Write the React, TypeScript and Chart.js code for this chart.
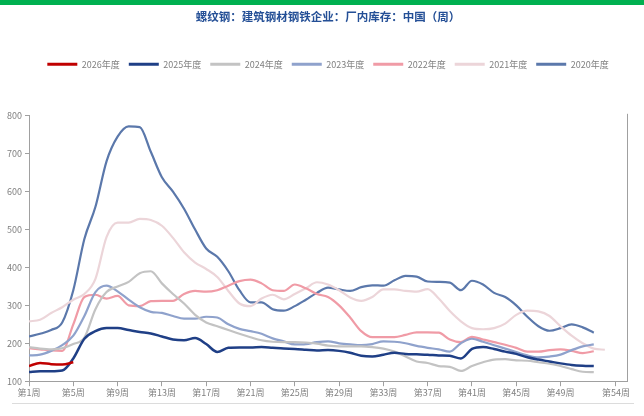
import { useEffect, useRef } from 'react';
import { Chart, registerables } from 'chart.js';

Chart.register(...registerables);

// ---- data ----
const weeks = [
  1, 2, 3, 4, 5, 6, 7, 8, 9, 10, 11, 12, 13, 14, 15, 16, 17, 18, 19, 20,
  21, 22, 23, 24, 25, 26, 27, 28, 29, 30, 31, 32, 33, 34, 35, 36, 37, 38, 39, 40,
  41, 42, 43, 44, 45, 46, 47, 48, 49, 50, 51, 52, 53,
];
const xTickWeeks = [1, 5, 9, 13, 17, 21, 25, 29, 33, 37, 41, 45, 49, 54];
const seriesNames = ['2026年度', '2025年度', '2024年度', '2023年度', '2022年度', '2021年度', '2020年度'];
const chartTitle = '螺纹钢：建筑钢材钢铁企业：厂内库存：中国（周）';

const y2026 = [140, 148, 145, 144, 150];
const y2025 = [
  124, 126, 126, 128, 160, 212, 232, 240, 240, 235, 230, 226, 218, 210, 208, 214, 198, 177, 188, 189,
  189, 190, 188, 186, 185, 183, 181, 182, 180, 175, 167, 165, 170, 175, 172, 171, 170, 168, 167, 160,
  185, 190, 185, 178, 172, 163, 157, 152, 147, 143, 141, 140,
];
const y2024 = [
  190, 186, 184, 187, 198, 215, 290, 335, 350, 362, 385, 390, 358, 330, 305, 275, 255, 245, 235, 225,
  216, 208, 204, 203, 203, 202, 199, 194, 192, 192, 192, 190, 186, 178, 165, 152, 148, 140, 138, 127,
  140, 150, 157, 158, 155, 154, 150, 146, 140, 132, 125, 124,
];
const y2023 = [
  168, 170, 180, 195, 220, 272, 335, 352, 337, 315, 295, 283, 280, 272, 265, 265, 270, 268, 250, 238,
  232, 225, 213, 205, 197, 198, 203, 205, 200, 197, 195, 198, 205, 204, 200, 193, 188, 184, 178, 200,
  212, 204, 195, 186, 177, 168, 163, 165, 170, 182, 192, 197,
];
const y2022 = [
  187, 184, 181, 180, 250, 322, 328, 318, 325, 300, 298, 311, 312, 312, 330, 338, 336, 340, 352, 364,
  368, 358, 340, 338, 355, 345, 330, 322, 300, 268, 232, 216, 216, 216, 222, 229, 229, 228, 210, 203,
  217, 210, 203, 196, 188, 178, 178, 182, 184, 180, 174, 179,
];
const y2021 = [
  258, 262, 280, 295, 315, 330, 370, 480, 518, 518, 528, 525, 510, 478, 440, 413, 396, 375, 338, 305,
  298, 318, 328, 316, 330, 345, 361, 355, 340, 321, 312, 322, 342, 342, 338, 336, 343, 318, 285, 258,
  240, 237, 240, 252, 275, 286, 284, 272, 245, 220, 200, 186, 183,
];
const y2020 = [
  218, 225, 235, 255, 340, 475, 560, 680, 745, 772, 770, 705, 638, 600, 555, 500, 450, 428, 390, 340,
  308, 308, 290, 286, 298, 315, 333, 347, 342, 338, 348, 353, 352, 366, 378, 376, 363, 362, 360, 340,
  365, 355, 333, 322, 300, 270, 245, 233, 240, 250, 242, 228,
];
const seriesValues = [y2026, y2025, y2024, y2023, y2022, y2021, y2020];

// ---- styles ----
const seriesColors = ['#c00000', '#1f3f86', '#c3c3c3', '#8fa2cc', '#f09ba6', '#ecd5d9', '#5b78ab'];
const seriesWidths = [2.5, 2.5, 2.2, 2.2, 2.2, 2.2, 2.2];
const smallFont = "'Noto Sans CJK SC', 'Noto Sans', sans-serif";
const axisGray = '#a0a0a0';
const textGray = '#808080';

const rightBorder = {
  id: 'rightBorder',
  afterDraw(chart: any) {
    const { ctx, chartArea } = chart;
    ctx.save();
    ctx.strokeStyle = axisGray;
    ctx.lineWidth = 1;
    const x = Math.round(chartArea.right) + 0.5;
    ctx.beginPath();
    ctx.moveTo(x, chartArea.top - 2);
    ctx.lineTo(x, chartArea.bottom);
    ctx.stroke();
    ctx.restore();
  },
};

export default function App() {
  const ref = useRef<HTMLCanvasElement | null>(null);

  useEffect(() => {
    if (!ref.current) return;
    const chart = new Chart(ref.current, {
      type: 'line',
      data: {
        datasets: seriesNames.map((name, i) => ({
          label: name,
          data: seriesValues[i].map((v, j) => ({ x: weeks[j], y: v })),
          borderColor: seriesColors[i],
          backgroundColor: seriesColors[i],
          borderWidth: seriesWidths[i],
          pointRadius: 0,
          pointHoverRadius: 0,
          cubicInterpolationMode: 'monotone' as const,
          fill: false,
        })),
      },
      options: {
        animation: false,
        responsive: false,
        maintainAspectRatio: false,
        events: [],
        layout: { padding: { left: 0, right: 17, top: 0, bottom: 17 } },
        plugins: {
          tooltip: { enabled: false },
          title: {
            display: true,
            text: chartTitle,
            color: '#244f96',
            fullSize: false,
            font: { family: "'Noto Sans CJK SC', sans-serif", size: 11.5, weight: 'bold' },
            padding: { top: 10, bottom: 27 },
          },
          subtitle: {
            display: true,
            text: ' ',
            position: 'top',
            weight: 500,
            fullSize: false,
            font: { size: 10 },
            padding: { top: 0, bottom: 25 },
          },
          legend: {
            display: true,
            position: 'top',
            fullSize: false,
            labels: {
              boxWidth: 30,
              boxHeight: 3,
              padding: 9,
              color: textGray,
              font: { family: smallFont, size: 9 },
              generateLabels: (c: any) =>
                Chart.defaults.plugins.legend.labels.generateLabels(c).map((l: any) => ({
                  ...l,
                  lineWidth: 0,
                  fillStyle: seriesColors[l.datasetIndex],
                })),
            },
          },
        },
        scales: {
          x: {
            type: 'linear',
            min: 1,
            max: 55,
            afterBuildTicks: (scale: any) => {
              scale.ticks = xTickWeeks.map((v) => ({ value: v }));
            },
            ticks: {
              autoSkip: false,
              maxRotation: 0,
              padding: 1,
              color: textGray,
              font: { family: smallFont, size: 9 },
              callback: (v: any) => `第${v}周`,
            },
            grid: { display: true, drawOnChartArea: false, drawTicks: true, tickLength: 5, color: axisGray },
            border: { display: true, color: axisGray },
          },
          y: {
            min: 100,
            max: 800,
            afterFit: (scale: any) => {
              scale.width = 29;
            },
            ticks: {
              stepSize: 100,
              padding: 3,
              color: textGray,
              font: { family: smallFont, size: 9 },
            },
            grid: { display: true, drawOnChartArea: false, drawTicks: true, tickLength: 4, color: axisGray },
            border: { display: true, color: axisGray },
          },
        },
      },
      plugins: [rightBorder],
    } as any);
    return () => chart.destroy();
  }, []);

  return (
    <div style={{ position: 'fixed', left: 0, top: 0, width: 644, height: 416, background: '#fff' }}>
      <canvas ref={ref} width={644} height={416} style={{ position: 'absolute', left: 0, top: 0, width: 644, height: 416 }} />
      <div style={{ position: 'absolute', left: 0, top: 0, width: 644, height: 5, background: '#00b050' }} />
      <div style={{ position: 'absolute', left: 12, top: 403, width: 622, height: 1, background: '#dcdcdc' }} />
    </div>
  );
}
